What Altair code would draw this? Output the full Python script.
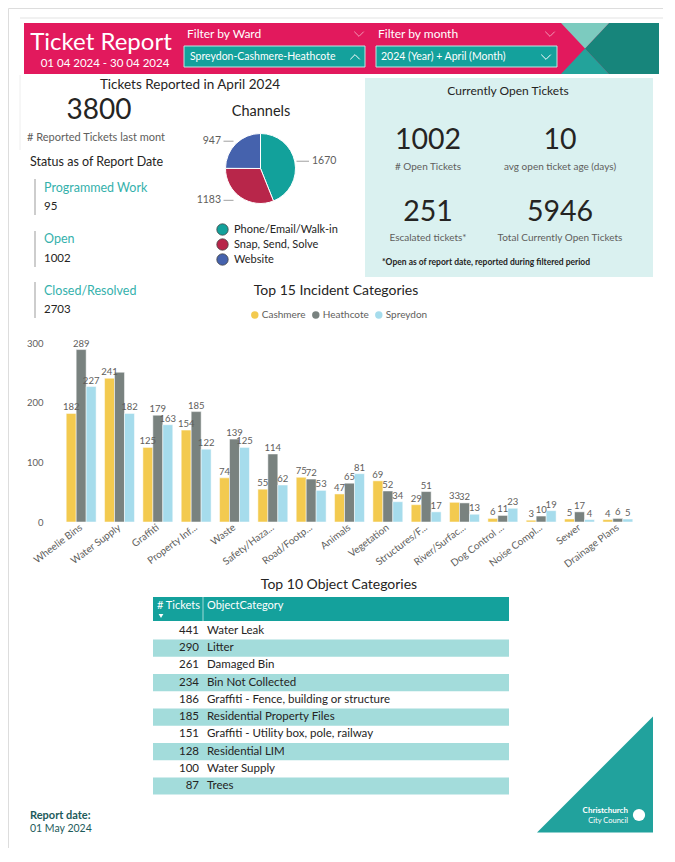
import altair as alt
import pandas as pd

# ---------------- data ----------------
REPORT_TITLE = "Ticket Report"
DATE_RANGE = "01 04 2024 - 30 04 2024"
WARD_FILTER_LABEL = "Filter by Ward"
WARD_FILTER = "Spreydon-Cashmere-Heathcote"
MONTH_FILTER_LABEL = "Filter by month"
MONTH_FILTER = "2024 (Year) + April (Month)"

REPORTED_TITLE = "Tickets Reported in April 2024"
REPORTED_TOTAL = 3800
REPORTED_LABEL = "# Reported Tickets last mont"
STATUS_TITLE = "Status as of Report Date"
STATUS_LABELS = ["Programmed Work", "Open", "Closed/Resolved"]
STATUS_VALUES = [95, 1002, 2703]

CHANNELS_TITLE = "Channels"
CHANNELS = ["Phone/Email/Walk-in", "Snap, Send, Solve", "Website"]
CHANNEL_COUNTS = [1670, 1183, 947]

OPEN_TITLE = "Currently Open Tickets"
OPEN_KPI_LABELS = ["# Open Tickets", "avg open ticket age (days)",
                   "Escalated tickets*", "Total Currently Open Tickets"]
OPEN_KPI_VALUES = [1002, 10, 251, 5946]
OPEN_NOTE = "*Open as of report date, reported during filtered period"

INCIDENT_TITLE = "Top 15 Incident Categories"
INCIDENT_CATEGORIES = ["Wheelie Bins", "Water Supply", "Graffiti", "Property Inf...", "Waste",
                       "Safety/Haza...", "Road/Footp...", "Animals", "Vegetation",
                       "Structures/F...", "River/Surfac...", "Dog Control ...",
                       "Noise Compl...", "Sewer", "Drainage Plans"]
WARDS = ["Cashmere", "Heathcote", "Spreydon"]
CASHMERE = [182, 241, 125, 154, 74, 55, 75, 47, 69, 29, 33, 6, 3, 5, 4]
HEATHCOTE = [289, 251, 179, 185, 139, 114, 72, 65, 52, 51, 32, 11, 10, 17, 6]
SPREYDON = [227, 182, 163, 122, 125, 62, 53, 81, 34, 17, 13, 23, 19, 4, 5]
HIDDEN_BAR_LABELS = [("Water Supply", "Heathcote")]
Y_TICKS = [0, 100, 200, 300]

OBJECT_TITLE = "Top 10 Object Categories"
OBJECT_HEADERS = ["# Tickets", "ObjectCategory"]
OBJECT_CATEGORIES = ["Water Leak", "Litter", "Damaged Bin", "Bin Not Collected",
                     "Graffiti - Fence, building or structure", "Residential Property Files",
                     "Graffiti - Utility box, pole, railway", "Residential LIM",
                     "Water Supply", "Trees"]
OBJECT_COUNTS = [441, 290, 261, 234, 186, 185, 151, 128, 100, 87]

REPORT_DATE_LABEL = "Report date:"
REPORT_DATE = "01 May 2024"
LOGO_LINES = ["Christchurch", "City Council"]

# ---------------- style ----------------
FONT = "Lato"
DARK = "#252423"
GRAY = "#605e5c"
PINK = "#e2195d"
TEAL = "#14a19c"
TEAL_LIGHT = "#7ccbbf"
TEAL_DARK = "#17857b"
TEAL_MID = "#23a39b"
STATUS_TEAL = "#35b1ac"
PANEL_BG = "#daf1f0"
STRIPE = "#a3dcdb"
PIE_COLORS = ["#12a19b", "#b8264a", "#4562ad"]
BAR_COLORS = ["#f3ca4f", "#79827f", "#a6dcec"]

OFF = 8


def X(v):
    return v - OFF


def Y(v):
    return v - OFF


def txt(s, x, y, size, color=DARK, align="left", weight="normal", baseline="middle"):
    return alt.Chart(pd.DataFrame({"t": [s]})).mark_text(
        align=align, baseline=baseline, fontSize=size, color=color,
        fontWeight=weight, font=FONT
    ).encode(x=alt.value(X(x)), y=alt.value(Y(y)), text="t:N")


def rect(x1, y1, x2, y2, color, stroke=None, sw=0):
    kw = dict(color=color, strokeWidth=sw)
    if stroke:
        kw["stroke"] = stroke
    return alt.Chart(pd.DataFrame({"k": [0]})).mark_rect(**kw).encode(
        x=alt.value(X(x1)), x2=alt.value(X(x2)), y=alt.value(Y(y1)), y2=alt.value(Y(y2)))


def rule(x1, y1, x2, y2, color, sw=1):
    return alt.Chart(pd.DataFrame({"k": [0]})).mark_rule(color=color, strokeWidth=sw).encode(
        x=alt.value(X(x1)), x2=alt.value(X(x2)), y=alt.value(Y(y1)), y2=alt.value(Y(y2)))


def shape(path, cx, cy, size, color, filled=True, sw=0):
    return alt.Chart(pd.DataFrame({"k": [0]})).mark_point(
        shape=path, filled=filled, size=size, color=color, opacity=1, strokeWidth=sw
    ).encode(x=alt.value(X(cx)), y=alt.value(Y(cy)))


layers = []

# ---------------- header ----------------
layers.append(rule(20, 18, 663, 18, "#e3e3e3"))
layers.append(rule(20, 75, 20, 150, "#eeeeee"))
layers.append(rect(24, 23, 659, 74, PINK))
# decorative X
DECO_SIZE = 98 ** 2
layers.append(shape("M-0.02,-0.52L1,-0.52L1,0.52L-0.02,0.52L-0.51,0Z", 610, 48.5, DECO_SIZE, TEAL_DARK))
layers.append(shape("M-1,-0.52L-0.02,-0.52L-0.51,0Z", 610, 48.5, DECO_SIZE, TEAL_LIGHT))
layers.append(shape("M-1,0.52L-0.02,0.52L-0.51,0Z", 610, 48.5, DECO_SIZE, TEAL_MID))

layers.append(txt(REPORT_TITLE, 101, 43, 24, "white", "center"))
layers.append(txt(DATE_RANGE, 105, 64, 11.5, "white", "center"))
layers.append(txt(WARD_FILTER_LABEL, 187, 34, 12, "white"))
layers.append(txt(MONTH_FILTER_LABEL, 378, 34, 12, "white"))
CHEV_DOWN = "M-1,-0.5L0,0.5L1,-0.5"
CHEV_UP = "M-1,0.5L0,-0.5L1,0.5"
layers.append(shape(CHEV_DOWN, 359, 34, 90, "#f29ab6", filled=False, sw=1))
layers.append(shape(CHEV_DOWN, 550, 34, 90, "#f29ab6", filled=False, sw=1))
layers.append(rect(184, 46, 365, 67, TEAL, "#bfe6e3", 1))
layers.append(rect(376, 46, 557, 67, TEAL, "#bfe6e3", 1))
layers.append(txt(WARD_FILTER, 190, 57, 10.5, "white"))
layers.append(txt(MONTH_FILTER, 381, 57, 10.5, "white"))
layers.append(shape(CHEV_UP, 355, 57, 90, "white", filled=False, sw=1))
layers.append(shape(CHEV_DOWN, 546, 57, 90, "white", filled=False, sw=1))

# ---------------- left KPIs ----------------
layers.append(txt(REPORTED_TITLE, 190, 85, 13.5, DARK, "center"))
layers.append(txt(str(REPORTED_TOTAL), 99, 111, 28, DARK, "center"))
layers.append(txt(REPORTED_LABEL, 96, 138, 11, GRAY, "center"))
layers.append(txt(STATUS_TITLE, 30, 162, 12.5, DARK))
status_y = [(179, 215, 188, 207), (231, 267, 239, 259), (282, 318, 291, 310)]
for (y1, y2, ly, vy), lab, val in zip(status_y, STATUS_LABELS, STATUS_VALUES):
    layers.append(rule(35, y1, 35, y2, "#bdbdbd", 1.5))
    layers.append(txt(lab, 44, ly, 12.5, STATUS_TEAL))
    layers.append(txt(str(val), 44, vy, 11.5, DARK))

# ---------------- pie ----------------
CX, CY, R = 260.5, 168.5, 35
layers.append(txt(CHANNELS_TITLE, 261, 112, 14.5, DARK, "center"))
pie_df = pd.DataFrame({"channel": CHANNELS, "tickets": CHANNEL_COUNTS,
                       "order": list(range(len(CHANNELS)))})
pie = alt.Chart(pie_df).mark_arc(outerRadius=R, stroke="white", strokeWidth=1).encode(
    theta=alt.Theta("tickets:Q", stack=True),
    order=alt.Order("order:Q"),
    color=alt.Color("channel:N", sort=CHANNELS,
                    scale=alt.Scale(domain=CHANNELS, range=PIE_COLORS),
                    legend=alt.Legend(orient="none", legendX=X(216), legendY=Y(223),
                                      title=None, direction="vertical", symbolType="circle",
                                      symbolSize=130, labelFontSize=11, labelColor=DARK,
                                      rowPadding=0, labelOffset=5, padding=0,
                                      symbolStrokeColor="#444444", symbolStrokeWidth=0.8,
                                      labelFont=FONT)),
    x=alt.value(X(CX)), y=alt.value(Y(CY)),
)
layers.append(pie)

pie_lab = alt.Chart(pie_df).transform_window(
    cum="sum(tickets)", sort=[{"field": "order"}], frame=[None, 0]
).transform_joinaggregate(total="sum(tickets)").transform_calculate(
    mid="(datum.cum - datum.tickets / 2) / datum.total * 2 * PI"
).transform_calculate(
    ly=f"{Y(CY)} - 38.5 * cos(datum.mid)",
    right="sin(datum.mid) >= 0",
)
ly_enc = alt.Y("ly:Q", scale=None, axis=None)
right_lab = pie_lab.transform_filter("datum.right").mark_text(
    align="left", baseline="middle", fontSize=10.5, color=GRAY, font=FONT
).encode(x=alt.value(X(CX + 51.5)), y=ly_enc, text="tickets:Q")
left_lab = pie_lab.transform_filter("!datum.right").mark_text(
    align="right", baseline="middle", fontSize=10.5, color=GRAY, font=FONT
).encode(x=alt.value(X(CX - 39.5)), y=ly_enc, text="tickets:Q")
right_lead = pie_lab.transform_filter("datum.right").mark_rule(color="#a0a0a0", strokeWidth=1).encode(
    x=alt.value(X(CX + 36)), x2=alt.value(X(CX + 48.5)), y=ly_enc)
left_lead = pie_lab.transform_filter("!datum.right").mark_rule(color="#a0a0a0", strokeWidth=1).encode(
    x=alt.value(X(CX - 37)), x2=alt.value(X(CX - 27)), y=ly_enc)
layers += [right_lead, left_lead, right_lab, left_lab]

# ---------------- right panel ----------------
layers.append(rect(365, 78, 653, 277, PANEL_BG))
layers.append(txt(OPEN_TITLE, 508, 91, 12, DARK, "center"))
kpi_pos = [(428, 140, 167), (560, 140, 167), (428, 212, 238), (560, 212, 238)]
for (kx, vy, ly), lab, val in zip(kpi_pos, OPEN_KPI_LABELS, OPEN_KPI_VALUES):
    layers.append(txt(str(val), kx, vy, 28.5, DARK, "center"))
    layers.append(txt(lab, kx, ly, 10, GRAY, "center"))
layers.append(txt(OPEN_NOTE, 382, 262, 8.5, DARK, "left", "bold"))

# ---------------- bar chart ----------------
layers.append(txt(INCIDENT_TITLE, 336, 291, 14, DARK, "center"))
rows = []
for i, cat in enumerate(INCIDENT_CATEGORIES):
    for ward, vals in zip(WARDS, [CASHMERE, HEATHCOTE, SPREYDON]):
        rows.append({"category": cat, "ward": ward, "value": vals[i],
                     "hidden": (cat, ward) in HIDDEN_BAR_LABELS})
bar_df = pd.DataFrame(rows)

x_bar = alt.X("category:N", sort=INCIDENT_CATEGORIES,
              scale=alt.Scale(domain=INCIDENT_CATEGORIES, range=[X(62), X(637)],
                              paddingInner=0.22, paddingOuter=0.11),
              axis=alt.Axis(orient="bottom", offset=-(840 - Y(522)), title=None,
                            labelAngle=-37, labelAlign="right", labelBaseline="middle",
                            labelFontSize=10, labelColor=GRAY, labelPadding=4,
                            ticks=False, tickSize=0, domain=False, grid=False,
                            labelOverlap=False, labelLimit=200, labelFont=FONT))
y_bar = alt.Y("value:Q",
              scale=alt.Scale(domain=[0, 300], range=[Y(522), Y(343)], nice=False, zero=True),
              axis=alt.Axis(orient="left", offset=-X(43), values=Y_TICKS, title=None,
                            labelFontSize=9.5, labelColor=GRAY, labelPadding=0,
                            ticks=False, tickSize=0, domain=False, grid=False, labelFont=FONT))
xo_bar = alt.XOffset("ward:N", sort=WARDS, scale=alt.Scale(domain=WARDS, paddingInner=0))
bars = alt.Chart(bar_df).mark_bar(stroke="white", strokeWidth=0.5).encode(
    x=x_bar, y=y_bar, xOffset=xo_bar,
    color=alt.Color("ward:N", sort=WARDS, scale=alt.Scale(domain=WARDS, range=BAR_COLORS),
                    legend=alt.Legend(orient="none", legendX=X(249.8), legendY=Y(310),
                                      direction="horizontal", title=None, symbolType="circle",
                                      symbolSize=55, labelFontSize=10, labelColor=GRAY,
                                      labelOffset=2, columnPadding=5, padding=0,
                                      symbolStrokeWidth=0, labelFont=FONT)),
)
bar_labels = alt.Chart(bar_df).transform_filter("!datum.hidden").mark_text(
    dy=-6, fontSize=9.5, color=GRAY, font=FONT, baseline="middle"
).encode(x=x_bar, y=y_bar, xOffset=xo_bar, text="value:Q")
layers.append(alt.layer(bars, bar_labels))

# ---------------- table ----------------
layers.append(txt(OBJECT_TITLE, 339, 585, 14, DARK, "center"))
layers.append(rect(153, 597, 509, 621, TEAL))
layers.append(rule(203, 597, 203, 621, "#9fd9d6", 1))
layers.append(txt(OBJECT_HEADERS[0], 157, 606, 11, "white"))
layers.append(txt(OBJECT_HEADERS[1], 207, 606, 11, "white"))
layers.append(shape("triangle-down", 161, 616, 22, "white"))
tab_df = pd.DataFrame({"category": OBJECT_CATEGORIES, "tickets": OBJECT_COUNTS,
                       "row": list(range(len(OBJECT_CATEGORIES)))})
y_tab = alt.Y("category:N", sort=OBJECT_CATEGORIES,
              scale=alt.Scale(domain=OBJECT_CATEGORIES, range=[Y(622.4), Y(794.6)],
                              paddingInner=0, paddingOuter=0), axis=None)
stripes = alt.Chart(tab_df).transform_filter("datum.row % 2 == 1").mark_rect(color=STRIPE).encode(
    y=y_tab, x=alt.value(X(153)), x2=alt.value(X(509)))
nums = alt.Chart(tab_df).mark_text(align="right", baseline="middle", fontSize=11.5,
                                   color=DARK, font=FONT).encode(
    y=y_tab, x=alt.value(X(199)), text="tickets:Q")
names = alt.Chart(tab_df).mark_text(align="left", baseline="middle", fontSize=11.5,
                                    color=DARK, font=FONT).encode(
    y=y_tab, x=alt.value(X(207)), text="category:N")
layers.append(alt.layer(stripes, nums, names))

# ---------------- footer ----------------
layers.append(txt(REPORT_DATE_LABEL, 30, 816, 11, "#1d5b5b", "left", "bold"))
layers.append(txt(REPORT_DATE, 30, 829, 10.5, "#1d5b5b"))
layers.append(shape("M-1,1L1,1L1,-1Z", 595, 774.5, 116 ** 2, "#21a29d"))
layers.append(txt(LOGO_LINES[0], 628, 810.5, 8, "white", "right", "bold"))
layers.append(txt(LOGO_LINES[1], 628, 820.5, 7.5, "white", "right"))
layers.append(shape("circle", 639, 815, 150, "white"))

chart = alt.layer(*layers).properties(
    width=655, height=840, padding=0, background="white",
    autosize=alt.AutoSizeParams(type="none"),
).resolve_scale(x="independent", y="independent", color="independent").configure_view(
    stroke=None
).configure(font=FONT)

chart.save("out.html", embed_options={"renderer": "svg", "actions": False})
